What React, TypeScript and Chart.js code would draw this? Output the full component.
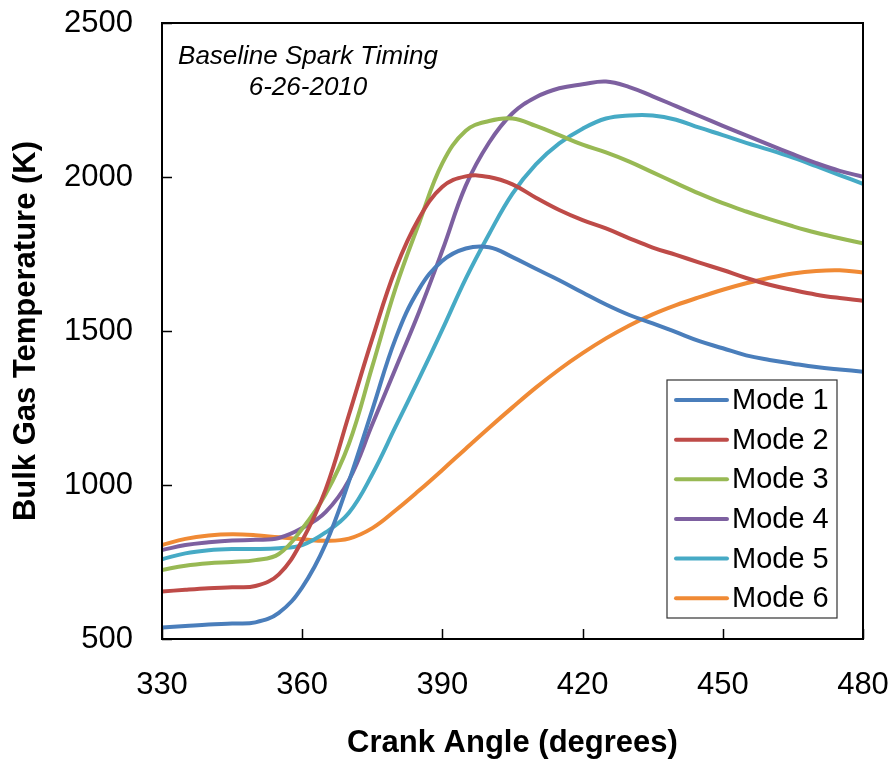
import React, { useEffect, useRef } from "react";
import { Chart, registerables } from "chart.js";

Chart.register(...registerables);

// ---- data ----
const crankAngle = [
  330, 335, 340, 345, 350, 355, 360, 365, 370, 375, 380, 385, 390, 395, 400, 405,
  410, 415, 420, 425, 430, 435, 440, 445, 450, 455, 460, 465, 470, 475, 480,
];

const mode1 = [
  537, 542, 547, 550, 554, 585, 668, 808, 1012, 1244, 1476, 1636, 1728, 1768, 1772, 1740,
  1702, 1665, 1625, 1586, 1552, 1525, 1496, 1467, 1444, 1421, 1406, 1394, 1383, 1375, 1368,
];
const mode2 = [
  654, 660, 665, 668, 672, 710, 820, 985, 1228, 1475, 1702, 1866, 1968, 2002, 2000, 1976,
  1933, 1893, 1860, 1833, 1801, 1771, 1747, 1722, 1698, 1672, 1650, 1633, 1618, 1607, 1598,
];
const mode3 = [
  724, 738, 746, 750, 756, 776, 858, 970, 1134, 1385, 1640, 1850, 2045, 2150, 2182, 2190,
  2166, 2136, 2105, 2080, 2050, 2015, 1980, 1946, 1915, 1888, 1863, 1840, 1819, 1801, 1785,
];
const mode4 = [
  789, 805, 814, 820, 822, 828, 860, 912, 1016, 1197, 1379, 1562, 1762, 1972, 2112, 2207,
  2259, 2288, 2301, 2310, 2292, 2262, 2230, 2198, 2166, 2135, 2104, 2074, 2045, 2020, 2001,
];
const mode5 = [
  759, 778, 788, 792, 792, 795, 805, 846, 910, 1035, 1190, 1345, 1505, 1670, 1815, 1946,
  2041, 2109, 2157, 2190, 2200, 2200, 2186, 2160, 2136, 2111, 2088, 2063, 2035, 2006, 1978,
];
const mode6 = [
  805, 825, 836, 840, 837, 830, 824, 819, 826, 860, 918, 982, 1049, 1118, 1186, 1252,
  1316, 1375, 1428, 1476, 1518, 1554, 1584, 1610, 1634, 1655, 1673, 1687, 1695, 1697, 1690,
];

const seriesLabels = ["Mode 1", "Mode 2", "Mode 3", "Mode 4", "Mode 5", "Mode 6"];
const seriesValues = [mode1, mode2, mode3, mode4, mode5, mode6];
const seriesColors = ["#4A7EBB", "#BE4B48", "#98B954", "#7D60A0", "#46AAC5", "#F08A35"];

const xTicks = [330, 360, 390, 420, 450, 480];
const yTicks = [500, 1000, 1500, 2000, 2500];
const annotationLines = ["Baseline Spark Timing", "6-26-2010"];
const xTitle = "Crank Angle (degrees)";
const yTitle = "Bulk Gas Temperature (K)";

const FONT = "'Liberation Sans', Arial, Helvetica, sans-serif";

const framePlugin = {
  id: "frame",
  afterDatasetsDraw(chart: any) {
    const { ctx, chartArea, scales } = chart;
    const { left, right, top, bottom } = chartArea;
    ctx.save();
    ctx.strokeStyle = "#000";
    ctx.lineWidth = 2;
    ctx.strokeRect(left, top, right - left, bottom - top);
    ctx.lineWidth = 1.5;
    ctx.beginPath();
    for (const v of yTicks) {
      const y = Math.round(scales.y.getPixelForValue(v)) + 0.5;
      ctx.moveTo(left, y);
      ctx.lineTo(left + 10, y);
    }
    for (const v of xTicks) {
      const x = Math.round(scales.x.getPixelForValue(v)) + 0.5;
      ctx.moveTo(x, bottom);
      ctx.lineTo(x, bottom - 10);
    }
    ctx.stroke();

    // annotation text
    ctx.fillStyle = "#000";
    ctx.font = `italic 26px ${FONT}`;
    ctx.textAlign = "center";
    ctx.textBaseline = "alphabetic";
    ctx.fillText(annotationLines[0], 308, 64);
    ctx.fillText(annotationLines[1], 308, 95);

    // legend
    const lx = 667, ly = 380, lw = 170, lh = 238;
    ctx.fillStyle = "#fff";
    ctx.fillRect(lx, ly, lw, lh);
    ctx.strokeStyle = "#333";
    ctx.lineWidth = 1.2;
    ctx.strokeRect(lx, ly, lw, lh);
    ctx.font = `29px ${FONT}`;
    ctx.textAlign = "left";
    ctx.textBaseline = "middle";
    seriesLabels.forEach((label, i) => {
      const y = 400 + i * 39.65;
      ctx.strokeStyle = seriesColors[i];
      ctx.lineWidth = 4;
      ctx.lineCap = "round";
      ctx.beginPath();
      ctx.moveTo(676, y);
      ctx.lineTo(727, y);
      ctx.stroke();
      ctx.fillStyle = "#000";
      ctx.fillText(label, 732, y + 1);
    });
    ctx.restore();
  },
};

export default function App() {
  const canvasRef = useRef<HTMLCanvasElement | null>(null);

  useEffect(() => {
    if (!canvasRef.current) return;
    Chart.defaults.font.family = FONT;
    Chart.defaults.color = "#000";
    const chart = new Chart(canvasRef.current, {
      type: "line",
      data: {
        datasets: seriesLabels.map((label, i) => ({
          label,
          data: crankAngle.map((x, j) => ({ x, y: seriesValues[i][j] })),
          borderColor: seriesColors[i],
          backgroundColor: seriesColors[i],
          borderWidth: 4,
          pointRadius: 0,
          fill: false,
          tension: 0.4,
        })),
      },
      options: {
        responsive: false,
        animation: false,
        events: [],
        layout: { padding: { top: 23, right: 29, left: 0, bottom: 0 } },
        plugins: {
          legend: { display: false },
          tooltip: { enabled: false },
        },
        scales: {
          x: {
            type: "linear",
            min: 330,
            max: 480,
            afterBuildTicks: (scale: any) => {
              scale.ticks = xTicks.map((v) => ({ value: v }));
            },
            afterFit: (scale: any) => {
              scale.height = 120;
              scale.paddingLeft = 0;
              scale.paddingRight = 0;
            },
            grid: { display: false, drawTicks: false },
            border: { display: false },
            ticks: {
              padding: 28,
              font: { size: 31, family: FONT },
              color: "#000",
              maxRotation: 0,
              autoSkip: false,
              callback: (v: any) => String(v),
            },
            title: {
              display: true,
              text: xTitle,
              font: { size: 31, weight: "bold", family: FONT, lineHeight: 1 },
              color: "#000",
              padding: { top: 0, bottom: 0 },
            },
          },
          y: {
            type: "linear",
            min: 500,
            max: 2500,
            afterBuildTicks: (scale: any) => {
              scale.ticks = yTicks.map((v) => ({ value: v }));
            },
            afterFit: (scale: any) => {
              scale.width = 162;
              scale.paddingTop = 0;
              scale.paddingBottom = 0;
            },
            grid: { display: false, drawTicks: false },
            border: { display: false },
            ticks: {
              padding: 29,
              font: { size: 31, family: FONT },
              color: "#000",
              autoSkip: false,
              callback: (v: any) => String(v),
            },
            title: {
              display: true,
              text: yTitle,
              font: { size: 31, weight: "bold", family: FONT, lineHeight: 1 },
              color: "#000",
              padding: { top: 11, bottom: 0 },
            },
          },
        },
      },
      plugins: [framePlugin],
    });
    return () => chart.destroy();
  }, []);

  return (
    <div style={{ position: "absolute", left: 0, top: 0, width: 892, height: 759, background: "#fff" }}>
      <canvas ref={canvasRef} width={892} height={759} />
    </div>
  );
}
